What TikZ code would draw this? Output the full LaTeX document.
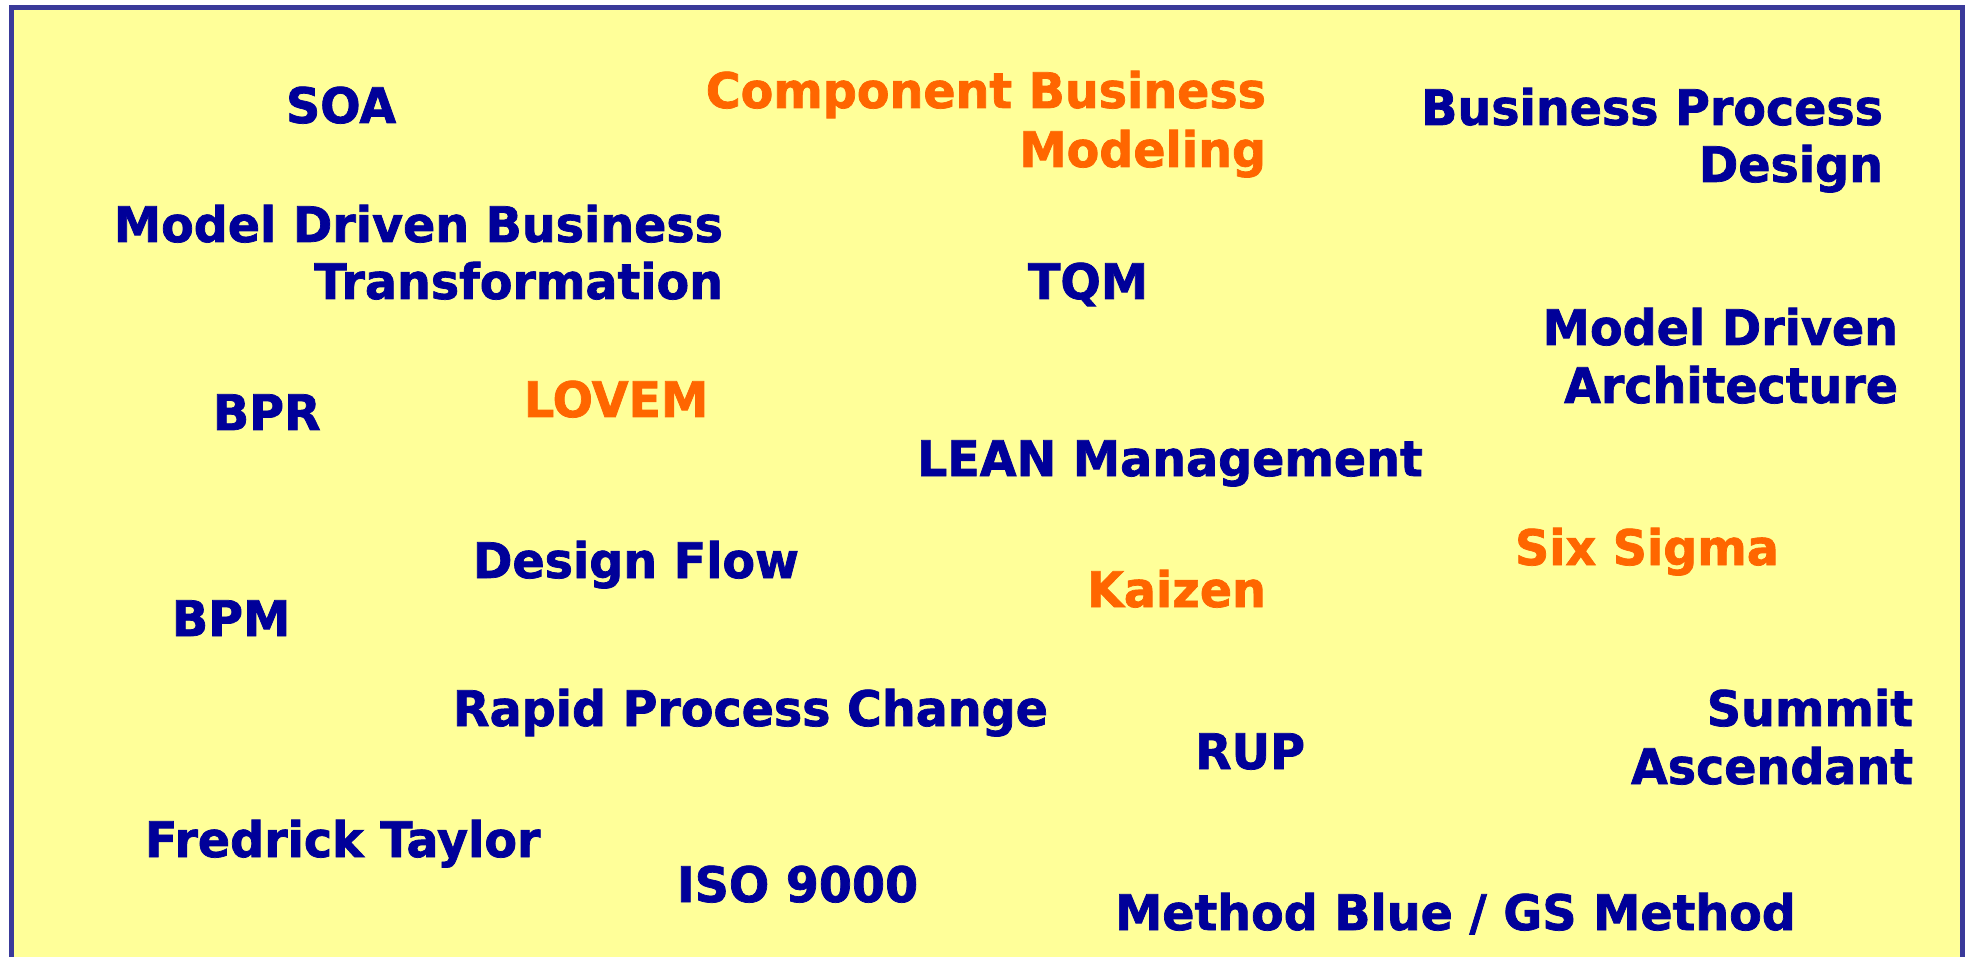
\documentclass[tikz,border=0pt]{standalone}
\usepackage{fontspec}
\setmainfont{DejaVu Sans}
\newfontfamily\lblfont[FakeStretch=0.97,FakeBold=1.5]{DejaVu Sans Bold}
\definecolor{bgyellow}{HTML}{FFFF99}
\definecolor{frameblue}{HTML}{3A3A9A}
\definecolor{txtblue}{HTML}{000099}
\definecolor{txtorange}{HTML}{FF6600}
\tikzset{
  lbl/.style={inner sep=0pt, outer sep=0pt, font=\lblfont\fontsize{49}{58}\selectfont, text=txtblue},
  hot/.style={lbl, text=txtorange}
}
\begin{document}
\begin{tikzpicture}[x=1pt,y=1pt]
\useasboundingbox (0,0) rectangle (1966,-957);
\fill[white] (0,0) rectangle (1966,-957);
\draw[line width=5pt, draw=frameblue, fill=bgyellow] (11.5,-7.5) rectangle (1962.5,-975);
\node[lbl, anchor=base west] (soa) at (286,-123) {SOA};
\node[hot, anchor=base east] (cbm1) at (1266,-108) {Component Business};
\node[hot, anchor=base east] (cbm2) at (1266,-167) {Modeling};
\node[lbl, anchor=base east] (bpd1) at (1883,-125) {Business Process};
\node[lbl, anchor=base east] (bpd2) at (1883,-182) {Design};
\node[lbl, anchor=base east] (mdbt1) at (723,-242) {Model Driven Business};
\node[lbl, anchor=base east] (mdbt2) at (723,-299) {Transformation};
\node[lbl, anchor=base west] (tqm) at (1028,-299) {TQM};
\node[lbl, anchor=base east] (mda1) at (1898,-345) {Model Driven};
\node[lbl, anchor=base east] (mda2) at (1898,-403) {Architecture};
\node[lbl, anchor=base west] (bpr) at (213,-430) {BPR};
\node[hot, anchor=base west] (lovem) at (524,-417) {LOVEM};
\node[lbl, anchor=base west] (lean) at (917,-476) {LEAN Management};
\node[hot, anchor=base west] (six) at (1515,-565) {Six Sigma};
\node[lbl, anchor=base west] (dflow) at (473,-578) {Design Flow};
\node[hot, anchor=base west] (kaizen) at (1087,-607) {Kaizen};
\node[lbl, anchor=base west] (bpm) at (172,-636) {BPM};
\node[lbl, anchor=base west] (rpc) at (453,-726) {Rapid Process Change};
\node[lbl, anchor=base east] (sa1) at (1913,-726) {Summit};
\node[lbl, anchor=base east] (sa2) at (1913,-784) {Ascendant};
\node[lbl, anchor=base west] (rup) at (1195,-769) {RUP};
\node[lbl, anchor=base west] (ft) at (145,-857) {Fredrick Taylor};
\node[lbl, anchor=base west] (iso) at (677,-902) {ISO 9000};
\node[lbl, anchor=base west] (mb) at (1115,-930) {Method Blue / GS Method};
\end{tikzpicture}
\end{document}
